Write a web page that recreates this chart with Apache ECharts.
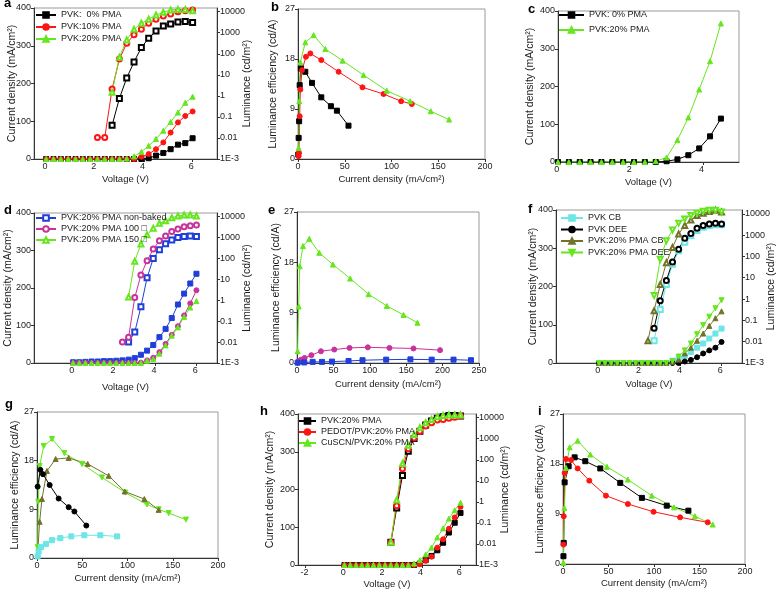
<!DOCTYPE html>
<html><head><meta charset="utf-8">
<script src="https://cdn.jsdelivr.net/npm/echarts/dist/echarts.min.js"></script>
<style>html,body{margin:0;padding:0;background:#fff}#c{width:778px;height:593px}</style>
</head><body><div id="c"></div>
<script>
// ---------- shared voltage grids ----------
const V21 = [0,0.3,0.6,0.9,1.2,1.5,1.8,2.1,2.4,2.7,3.0,3.3,3.6,3.9,4.2,4.5,4.8,5.1,5.4,5.7,6.0];
const V16 = [0,0.3,0.6,0.9,1.2,1.5,1.8,2.1,2.4,2.7,3.0,3.3,3.6,3.9,4.2,4.5];
const L27 = [2.7,3.0,3.3,3.6,3.9,4.2,4.5,4.8,5.1,5.4,5.7,6.0];
const L24 = [2.4,2.7,3.0,3.3,3.6,3.9,4.2,4.5,4.8,5.1,5.4,5.7,6.0];
const L21 = [2.1,2.4,2.7,3.0,3.3,3.6,3.9,4.2,4.5,4.8,5.1,5.4,5.7,6.0];

// ---------- panel a ----------
const aJ0  = [0,0,0,0,0,0,0,0,0,0,0,0,0,0,2,9,16,26,38,42,55];
const aJ10 = [0,0,0,0,0,0,0,0,0,0,0,0,0,6,13,26,44,70,97,114,126];
const aJ20 = [0,0,0,0,0,0,0,0,0,0,0,1,7,19,35,53,75,98,123,149,165];
const aL0  = [0.04,0.76,7.1,41,200,550,1200,2100,2630,3240,3390,3090];
const aL10 = [0.0105,0.0105,2.1,56,316,794,1450,2820,4370,6170,7760,10000,11000,12000];
const aL20 = [1.5,69,457,1450,2820,4370,6920,9330,12000,12900,12900,11000];

// ---------- panel b ----------
const bBlackJ = [0.3,0.7,1.2,1.8,3,7.8,15,24.9,35.2,41.6,54];
const bBlackE = [0.8,3.8,6.8,13.3,16.3,15.7,13.7,11.1,9.5,8.7,6.0];
const bRedJ = [0.5,1,1.8,2.5,4.3,8.5,13.2,24.9,43.4,69,91.5,110.3,121.7];
const bRedE = [0.5,1.1,7.7,12.5,16,18.4,19.0,17.8,15.7,12.9,11.7,10.4,9.9];
const bGreenJ = [0.7,1.4,2.5,7.8,16.7,29.2,47.7,70.1,95,120,142,161.6];
const bGreenE = [2,10.4,17.4,21,22.3,19.8,17.7,15.1,12.3,10.4,8.6,7.1];

// ---------- panel c ----------
const cJ0  = [0,0,0,0,0,0,0,0,0,0,2,7,18,36,68,115];
const cJ20 = [0,0,0,0,0,0,0,0,0,2,12,58,118,192,267,367];

// ---------- panel d ----------
const dJnb  = [2,2,3,4,4,5,5,6,7,9,13,22,33,48,69,91,120,156,185,212,238];
const dJ100 = [0,0,0,0,0,0,0,0,0,0,0,1,7,14,29,51,75,98,127,159,194];
const dJ150 = [0,0,0,0,0,0,0,0,0,0,0,0,6,11,25,47,73,95,123,148,165];
const dLnb  = [0.01,0.03,0.49,12,100,263,501,776,1000,1120,1200,1120];
const dL100 = [0.01,0.017,1.35,16,79,282,708,1200,1950,2570,3310,3720,3980];
const dL150 = [1.45,74,490,1350,2820,4790,6460,8910,10700,12000,12000,10700];

// ---------- panel e ----------
const eGreenJ = [0.9,2.3,3.7,8.2,16.9,30.6,49.4,73.1,98.3,123.4,146.3,165.4];
const eGreenE = [2.1,10.1,17.3,20.9,22.2,19.7,17.6,15.1,12.3,10.2,8.6,7.2];
const eMagJ = [2.3,5.5,10.5,19.7,32.9,51.2,72.2,97.3,127,160,196.5];
const eMagE = [0.36,0.6,0.9,1.4,2.1,2.4,2.7,2.8,2.7,2.6,2.3];
const eBlueJ = [0.9,10,21.5,34.3,48,70.8,90,122.5,155.8,185,215,239];
const eBlueE = [0.06,0.1,0.2,0.2,0.25,0.36,0.5,0.6,0.65,0.6,0.6,0.5];

// ---------- panel f ----------
const fJcb   = [0,0,0,0,0,0,0,0,0,0,0,0,6,11,18,29,40,51,64,77,90];
const fJdee  = [0,0,0,0,0,0,0,0,0,0,0,0,0,0,4,8,15,25,33,40,55];
const fJpcb  = [0,0,0,0,0,0,0,0,0,0,0,0,3,9,25,40,58,77,97,117,135];
const fJpdee = [0,0,0,0,0,0,0,0,0,0,0,0,5,17,33,51,75,99,121,143,164];
const fLcb   = [0.011,0.32,4.8,43,182,457,933,1620,2340,2820,3090,3020];
const fLdee  = [0.043,0.83,7.4,55,219,708,1200,2090,2820,3310,3630,3310];
const fLpcb  = [0.011,0.28,4.8,51,263,1120,2820,5130,8320,10700,12900,14450,12000];
const fLpdee = [1.45,74,537,1740,3630,5750,8320,10700,13200,14450,14450,12000];

// ---------- panel g ----------
const gPdeeJ = [0.7,1.4,2.9,7.4,16.6,30.2,49.7,71.8,97.6,121.5,134.4,145.5,164.6];
const gPdeeE = [2,10.4,17.0,20.7,22.0,19.4,17.4,14.9,12.1,9.9,9.0,8.3,7.1];
const gPcbJ = [0.7,2.9,5.5,11,20.6,35,56,79.2,96.9,118.6,134.4];
const gPcbE = [0.8,6.7,10.9,16.1,18.3,18.5,17.4,15.2,12.3,10.9,8.9];
const gDeeJ = [0.7,3.7,6.6,14,23.9,35,41.3,54.5];
const gDeeE = [13.2,16.3,15.5,13.5,11.0,9.4,8.6,6.0];
const gCbJ = [0.7,1.8,4.4,10,16.6,25.8,37.9,52.3,70,88.4];
const gCbE = [0.3,1.2,2.0,2.6,3.3,3.7,4.0,4.2,4.2,4.0];

// ---------- panel h ----------
const hJ      = [0,0,0,0,0,0,0,0,0,0,0,0,0,4,13,24,39,59,86,112,138];
const hJpedot = [0,0,0,0,0,0,0,0,0,0,0,0,0,2,11,22,46,68,96,126,154];
const hJcuscn = [0,0,0,0,0,0,0,0,0,0,0,0,4,13,28,46,73,97,123,145,165];
const hL      = [0.012,0.51,18,257,1020,2290,4470,6920,9330,11200,12600,12600,12000];
const hLpedot = [0.012,0.66,38,339,1100,2290,3980,5750,7760,8320,9330,10500,12000];
const hLcuscn = [0.012,1.23,66,490,1580,3310,5750,8320,11200,12600,13500,13500,13500];

// ---------- panel i ----------
const iBlackJ = [0.5,0.8,1.8,6.2,12.8,24.5,41,62.9,86.7,114,137.8];
const iBlackE = [1.4,3.8,14.7,17.6,19.2,18.5,17.2,14.6,11.9,10.5,9.6];
const iRedJ = [0.5,0.8,1.8,3.3,8.8,16.1,28.9,47.2,71.3,99.5,128.7,159];
const iRedE = [3.5,8.6,16.4,18.9,18.7,17.2,15.0,12.3,10.8,9.4,8.4,7.5];
const iGreenJ = [0.4,1.5,3.3,7.3,16.1,30,48.3,71.3,97.6,122,145,164.5];
const iGreenE = [0.2,10.1,17.3,21.0,22.2,19.7,17.5,15.2,12.3,10.2,8.6,7.1];

// ---------- tick labels ----------
const ticksJ = [0,100,200,300,400];
const ticksE = [0,9,18,27];
const ticksJ200 = [0,50,100,150,200];
const ticksJ250 = [0,50,100,150,200,250];
const ticksV = [0,2,4,6];
const ticksVc = [0,2,4];
const ticksVh = [-2,0,2,4,6];
const labelsV = [0,4,6];
const labelsVc = [0,4];
const labelsV2 = [2];

// ---------- styling ----------
const FONT = '"Liberation Sans", Arial, sans-serif';
const BLACK='#000000', RED='#ff1414', GREEN='#66e61e', BLUE='#1f3fd8', MAG='#c8329c', CYAN='#6ce6e6', OLIVE='#72722a';
const zip = (xs, ys) => xs.map((x, i) => [x, ys[i]]);

const grids = [
  {left:34, top:8, width:183, height:151},   // a
  {left:298, top:9, width:187, height:150},  // b
  {left:558, top:11, width:181, height:151}, // c
  {left:34, top:213, width:183, height:150}, // d
  {left:297, top:212, width:182, height:151},// e
  {left:556, top:210, width:187, height:153},// f
  {left:37, top:412, width:181, height:146}, // g
  {left:298, top:414, width:178, height:151},// h
  {left:563, top:414, width:182, height:150} // i
].map(g => Object.assign({show:true, borderColor:'#9a9a9a', borderWidth:1, backgroundColor:'transparent'}, g));

const lbl = {fontSize:9, color:'#1a1a1a', fontFamily:FONT, margin:3, hideOverlap:false};
const nameStyleX = {fontSize:9.5, color:'#1a1a1a', fontFamily:FONT};
const nameStyleY = {fontSize:10.5, color:'#1a1a1a', fontFamily:FONT};
const aLine = {show:true, onZero:false, lineStyle:{color:'#333', width:1}};
const vLabel = {formatter: v => v + ' '};

function xAx(g, min, max, ticks, name, gap, labelExtra, labelVals) {
  return {type:'value', gridIndex:g, position:'bottom', min, max, name, nameLocation:'middle', nameGap:gap, nameMoveOverlap:false,
    nameTextStyle:nameStyleX, axisLine:aLine,
    axisTick:{show:true, length:3, customValues:ticks, lineStyle:{color:'#333'}},
    axisLabel:Object.assign({customValues:labelVals || ticks}, lbl, labelExtra || {}), splitLine:{show:false}};
}
// companion bottom axis carrying only the "2" volt label
function x2Ax(g, min, max) {
  return {type:'value', gridIndex:g, position:'bottom', offset:0, min, max, name:'',
    axisLine:{show:false, onZero:false}, axisTick:{show:false}, splitLine:{show:false},
    axisLabel:Object.assign({customValues:labelsV2}, lbl, vLabel)};
}
function yAx(g, max, ticks, name, gap) {
  return {type:'value', gridIndex:g, min:0, max, name, nameLocation:'middle', nameGap:gap, nameMoveOverlap:false,
    nameTextStyle:nameStyleY, axisLine:aLine,
    axisTick:{show:true, length:3, customValues:ticks, lineStyle:{color:'#333'}},
    axisLabel:Object.assign({customValues:ticks}, lbl), splitLine:{show:false}};
}
function logAx(g, gap) {
  return {type:'log', logBase:10, gridIndex:g, position:'right', min:0.001, max:15000,
    name:'Luminance (cd/m²)', nameLocation:'middle', nameGap:gap, nameRotate:90, nameMoveOverlap:false,
    nameTextStyle:nameStyleY, axisLine:aLine,
    axisTick:{show:true, length:3, lineStyle:{color:'#333'}},
    axisLabel:Object.assign({showMaxLabel:false, formatter:v => v < 0.002 ? '1E-3' : (v < 1 ? String(Number(v.toPrecision(1))) : String(Math.round(v)))}, lbl),
    splitLine:{show:false}};
}

const JNAME = 'Current density (mA/cm²)';
const ENAME = 'Luminance efficiency (cd/A)';
const VNAME = 'Voltage (V)';
const xAxes = [
  xAx(0, -0.5, 7, ticksV, VNAME, 15, vLabel, labelsV),
  xAx(1, 0, 200, ticksJ200, JNAME, 15),
  xAx(2, 0, 5, ticksVc, VNAME, 15, vLabel, labelsVc),
  xAx(3, -1.9, 7, ticksV, VNAME, 19, vLabel, labelsV),
  xAx(4, 0, 250, ticksJ250, JNAME, 16),
  xAx(5, -2.1, 7, ticksV, VNAME, 16, vLabel, labelsV),
  xAx(6, 0, 200, ticksJ200, JNAME, 15),
  xAx(7, -2.4, 6.8, ticksVh, VNAME, 14, vLabel),
  xAx(8, 0, 200, ticksJ200, JNAME, 14),
  x2Ax(0, -0.5, 7),
  x2Ax(2, 0, 5),
  x2Ax(3, -1.9, 7),
  x2Ax(5, -2.1, 7)
];
const yAxes = [
  yAx(0, 400, ticksJ, JNAME, 16),
  yAx(1, 27, ticksE, ENAME, 19),
  yAx(2, 400, ticksJ, JNAME, 22),
  yAx(3, 400, ticksJ, JNAME, 20),
  yAx(4, 27, ticksE, ENAME, 15),
  yAx(5, 400, ticksJ, JNAME, 17),
  yAx(6, 27, ticksE, ENAME, 16),
  yAx(7, 400, ticksJ, JNAME, 22),
  yAx(8, 27, ticksE, ENAME, 17),
  logAx(0, 25), // 9  (a)
  logAx(3, 25), // 10 (d)
  logAx(5, 24), // 11 (f)
  logAx(7, 24)  // 12 (h)
];

function S(name, xi, yi, data, color, symbol, extra) {
  return Object.assign({type:'line', name, xAxisIndex:xi, yAxisIndex:yi, data, symbol,
    symbolSize:5, showSymbol:true, showAllSymbol:true, animation:false, clip:true,
    lineStyle:{color, width:1}, itemStyle:{color, borderColor:color, borderWidth:1}}, extra || {});
}
const DOWN = {symbolRotate:180};

const series = [
  S('PVK:  0% PMA', 0, 0, zip(V21, aJ0), BLACK, 'rect'),
  S('PVK:10% PMA', 0, 0, zip(V21, aJ10), RED, 'circle'),
  S('PVK:20% PMA', 0, 0, zip(V21, aJ20), GREEN, 'triangle'),
  S('_aL0', 0, 9, zip(L27, aL0), BLACK, 'emptyRect'),
  S('_aL10', 0, 9, zip(L21, aL10), RED, 'emptyCircle'),
  S('_aL20', 0, 9, zip(L27, aL20), GREEN, 'emptyTriangle'),
  S('_b0', 1, 1, zip(bBlackJ, bBlackE), BLACK, 'rect'),
  S('_b10', 1, 1, zip(bRedJ, bRedE), RED, 'circle'),
  S('_b20', 1, 1, zip(bGreenJ, bGreenE), GREEN, 'triangle'),
  S('PVK: 0% PMA', 2, 2, zip(V16, cJ0), BLACK, 'rect'),
  S('PVK:20% PMA ', 2, 2, zip(V16, cJ20), GREEN, 'triangle'),
  S('_dJnb', 3, 3, zip(V21, dJnb), BLUE, 'rect'),
  S('_dJ100', 3, 3, zip(V21, dJ100), MAG, 'circle'),
  S('_dJ150', 3, 3, zip(V21, dJ150), GREEN, 'triangle'),
  S('PVK:20% PMA non-baked', 3, 10, zip(L27, dLnb), BLUE, 'emptyRect'),
  S('PVK:20% PMA 100 □', 3, 10, zip(L24, dL100), MAG, 'emptyCircle'),
  S('PVK:20% PMA 150 □', 3, 10, zip(L27, dL150), GREEN, 'emptyTriangle'),
  S('_eG', 4, 4, zip(eGreenJ, eGreenE), GREEN, 'triangle'),
  S('_eM', 4, 4, zip(eMagJ, eMagE), MAG, 'circle'),
  S('_eB', 4, 4, zip(eBlueJ, eBlueE), BLUE, 'rect'),
  S('PVK CB', 5, 5, zip(V21, fJcb), CYAN, 'rect'),
  S('PVK DEE', 5, 5, zip(V21, fJdee), BLACK, 'circle'),
  S('PVK:20% PMA CB', 5, 5, zip(V21, fJpcb), OLIVE, 'triangle'),
  S('PVK:20% PMA DEE', 5, 5, zip(V21, fJpdee), GREEN, 'triangle', DOWN),
  S('_fLcb', 5, 11, zip(L27, fLcb), CYAN, 'emptyRect'),
  S('_fLdee', 5, 11, zip(L27, fLdee), BLACK, 'emptyCircle'),
  S('_fLpcb', 5, 11, zip(L24, fLpcb), OLIVE, 'emptyTriangle'),
  S('_fLpdee', 5, 11, zip(L27, fLpdee), GREEN, 'emptyTriangle', DOWN),
  S('_gPdee', 6, 6, zip(gPdeeJ, gPdeeE), GREEN, 'triangle', DOWN),
  S('_gPcb', 6, 6, zip(gPcbJ, gPcbE), OLIVE, 'triangle'),
  S('_gDee', 6, 6, zip(gDeeJ, gDeeE), BLACK, 'circle'),
  S('_gCb', 6, 6, zip(gCbJ, gCbE), CYAN, 'rect'),
  S('PVK:20% PMA  ', 7, 7, zip(V21, hJ), BLACK, 'rect'),
  S('PEDOT/PVK:20% PMA', 7, 7, zip(V21, hJpedot), RED, 'circle'),
  S('CuSCN/PVK:20% PMA', 7, 7, zip(V21, hJcuscn), GREEN, 'triangle'),
  S('_hL', 7, 12, zip(L24, hL), BLACK, 'emptyRect'),
  S('_hLp', 7, 12, zip(L24, hLpedot), RED, 'emptyCircle'),
  S('_hLc', 7, 12, zip(L24, hLcuscn), GREEN, 'emptyTriangle'),
  S('_iB', 8, 8, zip(iBlackJ, iBlackE), BLACK, 'rect'),
  S('_iR', 8, 8, zip(iRedJ, iRedE), RED, 'circle'),
  S('_iG', 8, 8, zip(iGreenJ, iGreenE), GREEN, 'triangle')
];

function leg(names, left, top, w, gap) {
  return {data:names, left, top, orient:'vertical', itemWidth:w, itemHeight:7, itemGap:gap,
    padding:0, selectedMode:false, textStyle:{fontSize:9, color:'#1a1a1a', fontFamily:FONT, lineHeight:10}};
}
const legends = [
  leg(['PVK:  0% PMA','PVK:10% PMA','PVK:20% PMA'], 35, 10, 20, 2),
  leg(['PVK: 0% PMA','PVK:20% PMA '], 558, 10, 25, 5),
  leg(['PVK:20% PMA non-baked','PVK:20% PMA 100 □','PVK:20% PMA 150 □'], 35, 213, 20, 1),
  leg(['PVK CB','PVK DEE','PVK:20% PMA CB','PVK:20% PMA DEE'], 560, 213, 22, 1.5),
  leg(['PVK:20% PMA  ','PEDOT/PVK:20% PMA','CuSCN/PVK:20% PMA'], 298, 416, 17, 1)
];

const letters = [['a',4,-3],['b',271,1],['c',528,3],['d',4,204],['e',268,204],['f',528,203],['g',5,398],['h',260,405],['i',538,405]];
const graphic = letters.map(([t, x, y]) => ({type:'text', x, y, z:100,
  style:{text:t, fill:'#000', font:'bold 13px ' + FONT, verticalAlign:'top'}}));

const chart = echarts.init(document.getElementById('c'), null, {renderer:'canvas'});
chart.setOption({animation:false, backgroundColor:'#fff', grid:grids, xAxis:xAxes, yAxis:yAxes,
  legend:legends, series, graphic});
</script></body></html>
